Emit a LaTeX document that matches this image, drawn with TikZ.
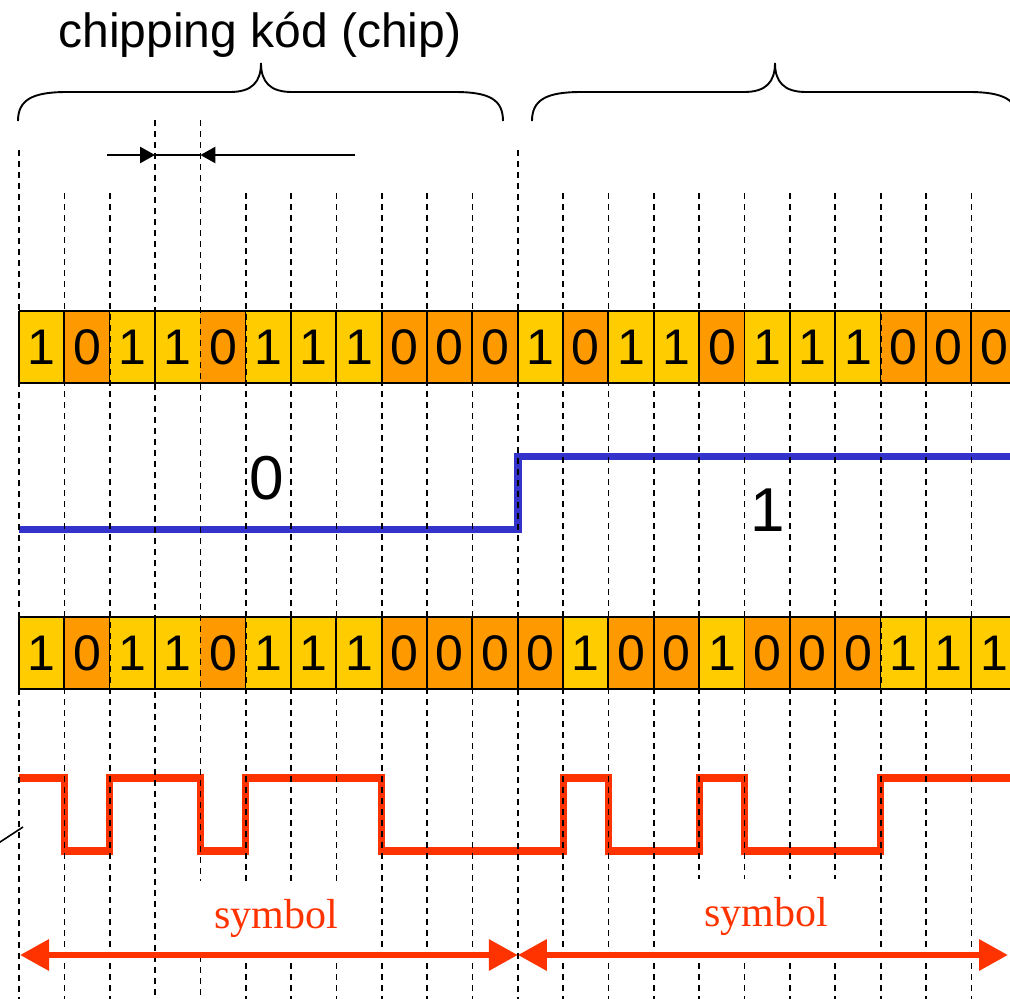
\documentclass[tikz,border=0pt]{standalone}
\usepackage{fontspec}
\setmainfont{Liberation Sans}
\newfontfamily\serifrm{Liberation Serif}
\usetikzlibrary{arrows.meta}
\definecolor{chipyellow}{HTML}{FFCC00}
\definecolor{chiporange}{HTML}{FF9900}
\definecolor{sigblue}{HTML}{3333CC}
\definecolor{sigred}{HTML}{FF3300}
\def\cw{45.35}
\begin{document}
\begin{tikzpicture}[x=1pt,y=-1pt,
  gridline/.style={line width=1.7pt,dash pattern=on 6pt off 5pt},
  cellbox/.style={minimum width=45.35pt,minimum height=72pt,inner sep=0pt,draw=none,
    font=\fontsize{50}{58}\selectfont},
  cellborder/.style={line width=1.8pt},
  bluesig/.style={sigblue,line width=7.5pt,line join=miter},
  redsig/.style={sigred,line width=7.2pt,line join=miter},
  bracestyle/.style={line width=1.9pt},
  bigdigit/.style={font=\fontsize{62}{70}\selectfont},
  symlabel/.style={fill=white,text=sigred,minimum width=160pt,minimum height=75pt,
    inner sep=0pt,font=\serifrm\fontsize{42}{50}\selectfont},
  symarrow/.style={sigred,line width=6.4pt,{Triangle[length=29pt,width=30pt]}-{Triangle[length=29pt,width=30pt]}},
  pointer/.style={line width=2.6pt,-{Triangle[length=15pt,width=16pt]}}]
\useasboundingbox (0,0) rectangle (1010,999);
\clip (0,0) rectangle (1010,999);

% ---- signals ----
\coordinate (b0) at (19,529.5);
\coordinate (b1) at ({19+11*\cw},529.5);
\coordinate (b2) at ({19+11*\cw},456.7);
\coordinate (b3) at (1012,456.7);
\draw[bluesig] (b0) -- (b1) -- (b2) -- (b3);

\draw[redsig] (19,778) -- ({19+1*\cw},778) -- ({19+1*\cw},851) -- ({19+2*\cw},851)
  -- ({19+2*\cw},778) -- ({19+4*\cw},778) -- ({19+4*\cw},851) -- ({19+5*\cw},851)
  -- ({19+5*\cw},778) -- ({19+8*\cw},778) -- ({19+8*\cw},851) -- ({19+12*\cw},851)
  -- ({19+12*\cw},778) -- ({19+13*\cw},778) -- ({19+13*\cw},851) -- ({19+15*\cw},851)
  -- ({19+15*\cw},778) -- ({19+16*\cw},778) -- ({19+16*\cw},851) -- ({19+19*\cw},851)
  -- ({19+19*\cw},778) -- (1012,778);

% ---- chip rows ----
\foreach \b [count=\i from 0] in {1,0,1,1,0,1,1,1,0,0,0,1,0,1,1,0,1,1,1,0,0,0} {
  \ifnum\b=1 \def\cc{chipyellow}\else\def\cc{chiporange}\fi
  \node[cellbox,fill=\cc] (ra\i) at ({19+\i*\cw+\cw/2},347) {\b};
}
\foreach \b [count=\i from 0] in {1,0,1,1,0,1,1,1,0,0,0,0,1,0,0,1,0,0,0,1,1,1} {
  \ifnum\b=1 \def\cc{chipyellow}\else\def\cc{chiporange}\fi
  \node[cellbox,fill=\cc] (rb\i) at ({19+\i*\cw+\cw/2},653) {\b};
}
\draw[cellborder] (ra0.north west) -- (ra21.north east);
\draw[cellborder] (ra0.south west) -- (ra21.south east);
\draw[cellborder] (rb0.north west) -- (rb21.north east);
\draw[cellborder] (rb0.south west) -- (rb21.south east);
\foreach \i in {0,1,2,3,5,6,7,8,9,10,11,12,13,14,15,16,17,18,19,20,21} {
  \draw[cellborder] (ra\i.north west) -- (ra\i.south west);
  \draw[cellborder] (rb\i.north west) -- (rb\i.south west);
}

% ---- dashed grid ----
\foreach \i in {1,2,5,6,7,8,9,10,12,13,14,15,16,17,18,19,20,21,22} {
  \coordinate (gt\i) at ({19+\i*\cw},193);
  \coordinate (gb\i) at ({19+\i*\cw},1000);
  \draw[gridline] (gt\i) -- (gb\i);
}
\foreach \i in {0,11} {
  \coordinate (gt\i) at ({19+\i*\cw},150);
  \coordinate (gb\i) at ({19+\i*\cw},1000);
  \draw[gridline] (gt\i) -- (gb\i);
}
\foreach \i in {3,4} {
  \coordinate (gt\i) at ({19+\i*\cw},120);
  \coordinate (gb\i) at ({19+\i*\cw},1000);
  \draw[gridline] (gt\i) -- (gb\i);
}

% ---- title and braces ----
\node (title) at (260,35) {\fontsize{48}{56}\selectfont chipping kód (chip)};
\draw[bracestyle] (18,121) .. controls (18,100) and (32,92) .. (67,92) -- (230,92)
  .. controls (252,92) and (261,82) .. (261,63)
  .. controls (261,82) and (270,92) .. (292,92) -- (455,92)
  .. controls (490,92) and (503,100) .. (503,121);
\draw[bracestyle] (532,121) .. controls (532,100) and (546,92) .. (581,92) -- (744,92)
  .. controls (766,92) and (775,82) .. (775,63)
  .. controls (775,82) and (784,92) .. (806,92) -- (969,92)
  .. controls (1004,92) and (1018,100) .. (1018,121);

% ---- chip width pointer ----
\coordinate (pa) at (107,155);
\coordinate (pb) at ({19+3*\cw},155);
\coordinate (pc) at ({19+4*\cw},155);
\coordinate (pd) at (355,155);
\draw[pointer] (pa) -- (pb);
\draw[pointer] (pd) -- (pc);
\draw[line width=2.6pt] (pb) -- (pc);

% ---- data bits ----
\node[bigdigit] (bit0) at (267,478) {0};
\node[bigdigit] (bit1) at (768,510) {1};

% ---- symbol labels and arrows ----
\node[symlabel] (sym1) at (276,918) {symbol};
\node[symlabel] (sym2) at (766,916) {symbol};
\coordinate (s0) at (20,955);
\coordinate (s1) at ({19+11*\cw},955);
\coordinate (s2) at (1008,955);
\draw[symarrow] (s0) -- (s1);
\draw[symarrow] (s1) -- (s2);

% ---- pointer line at left ----
\coordinate (l0) at (-6,846);
\coordinate (l1) at (23,827);
\draw[line width=1.6pt] (l0) -- (l1);
\end{tikzpicture}
\end{document}
